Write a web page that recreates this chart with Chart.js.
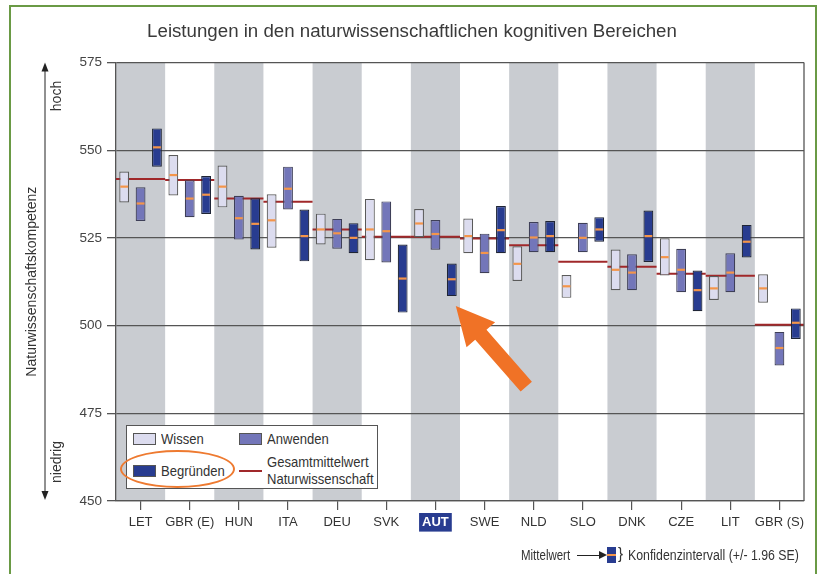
<!DOCTYPE html>
<html>
<head>
<meta charset="utf-8">
<script src="https://cdn.jsdelivr.net/npm/chart.js@4.4.1/dist/chart.umd.min.js"></script>
<style>
  body { margin: 0; background: #fff; }
  #wrap { position: relative; width: 822px; height: 574px; overflow: hidden;
          font-family: 'Liberation Sans', Arial, sans-serif; color: #333; }
  #chart { position: absolute; left: 0; top: 0; }
  .rahmen { position: absolute; left: 9px; top: 5px; width: 808px; height: 620px;
            border: 2px solid #6a9a45; box-sizing: border-box; }
  .legende { position: absolute; left: 126px; top: 425px; width: 252px; height: 64px;
             border: 1.5px solid #555; background: #fff; box-sizing: border-box; }
  .sw { position: absolute; width: 23px; height: 12px; border: 1px solid #555; box-sizing: border-box; }
  .txt { position: absolute; font-size: 15px; line-height: 17px; white-space: nowrap; color: #333;
         transform: scaleX(0.87); transform-origin: left center; }
  .ellipse { position: absolute; left: 120px; top: 450px; width: 115px; height: 38px;
             border: 2.5px solid #ee7a30; border-radius: 50%; box-sizing: border-box; }
  .fuss { position: absolute; font-size: 14px; line-height: 16px; white-space: nowrap; color: #333;
          transform: scaleX(0.88); transform-origin: left center; }
</style>
</head>
<body>
<div id="wrap">
  <div class="rahmen"></div>
  <canvas id="chart" width="822" height="574"></canvas>

  <div class="legende"></div>
  <div class="sw" style="left:133px;top:433px;background:#dcdcef"></div>
  <div class="txt" style="left:161px;top:430px">Wissen</div>
  <div class="sw" style="left:239px;top:433px;background:#7376b9"></div>
  <div class="txt" style="left:267px;top:430px">Anwenden</div>
  <div class="sw" style="left:133px;top:465px;background:#283c90"></div>
  <div class="txt" style="left:161px;top:462px">Begründen</div>
  <div style="position:absolute;left:239px;top:470px;width:23px;height:2px;background:#a0282a"></div>
  <div class="txt" style="left:267px;top:453px">Gesamtmittelwert</div>
  <div class="txt" style="left:267px;top:470px">Naturwissenschaft</div>
  <div class="ellipse"></div>

  <div class="fuss" style="left:521px;top:547px;transform:scaleX(0.82)">Mittelwert</div>
  <div style="position:absolute;left:577px;top:555px;width:23px;height:1px;background:#222"></div>
  <div style="position:absolute;left:599px;top:551px;width:0;height:0;border-top:4px solid transparent;border-bottom:4px solid transparent;border-left:8px solid #222"></div>
  <div style="position:absolute;left:607px;top:547px;width:9px;height:16px;background:#283c90"></div>
  <div style="position:absolute;left:607px;top:554px;width:9px;height:2px;background:#f4954a"></div>
  <div class="fuss" style="left:618px;top:546px;font-size:17px">}</div>
  <div class="fuss" style="left:628px;top:547px">Konfidenzintervall (+/- 1.96 SE)</div>
</div>

<script>
// Daten
const laender = ["LET", "GBR (E)", "HUN", "ITA", "DEU", "SVK", "AUT", "SWE", "NLD", "SLO", "DNK", "CZE", "LIT", "GBR (S)"];

const wissenUnten  = [535.1, 537.1, 533.7, 522.2, 523.1, 518.6, 525.2, 520.6, 512.7, 507.9, 510.1, 514.3, 507.3, 506.5];
const wissenOben   = [543.9, 548.6, 545.6, 537.4, 531.9, 536.1, 533.2, 530.5, 522.6, 514.4, 521.7, 524.9, 514.1, 514.6];
const wissenMittel = [539.6, 542.9, 539.6, 530.0, 527.4, 527.4, 529.1, 525.5, 517.6, 511.2, 515.9, 519.5, 510.6, 510.6];

const anwendenUnten  = [529.8, 530.9, 524.5, 533.1, 521.9, 518.0, 521.6, 514.9, 520.9, 520.9, 510.1, 509.5, 509.5, 488.6];
const anwendenOben   = [539.4, 541.4, 537.0, 545.3, 530.4, 535.4, 530.1, 526.2, 529.5, 529.3, 520.3, 521.9, 520.6, 498.2];
const anwendenMittel = [534.8, 536.2, 530.6, 539.0, 526.3, 526.9, 526.1, 520.7, 525.1, 525.0, 515.1, 515.9, 515.1, 493.6];

const begruendenUnten  = [545.3, 531.8, 521.7, 518.3, 520.6, 503.7, 508.4, 520.6, 520.9, 523.9, 518.1, 504.1, 519.4, 496.2];
const begruendenOben   = [556.2, 542.6, 536.3, 533.1, 529.2, 523.1, 517.7, 534.1, 529.8, 530.9, 532.8, 515.7, 528.7, 504.9];
const begruendenMittel = [550.8, 537.3, 529.0, 525.5, 525.0, 513.4, 513.2, 527.2, 525.5, 527.4, 525.5, 510.1, 523.9, 500.8];

const gesamtMittel = [541.8, 541.5, 536.2, 535.3, 527.4, 525.3, 525.3, 524.8, 522.9, 518.2, 516.8, 514.8, 514.2, 500.2];

const yTicks = [450, 475, 500, 525, 550, 575];

const mittelwerte = [wissenMittel, anwendenMittel, begruendenMittel];
const autIndex = laender.indexOf("AUT");

function spanne(unten, oben) {
  return unten.map((u, i) => [u, oben[i]]);
}

// graue Streifen hinter jedem zweiten Land
const streifen = {
  id: "streifen",
  beforeDraw(chart) {
    const { ctx, chartArea, scales } = chart;
    const x = scales.x;
    ctx.save();
    ctx.fillStyle = "#c9ccd1";
    for (let i = 0; i < laender.length; i += 2) {
      const l = x.getPixelForValue(i - 0.5);
      const r = x.getPixelForValue(i + 0.5);
      ctx.fillRect(l, chartArea.top, r - l, chartArea.bottom - chartArea.top);
    }
    ctx.restore();
  }
};

// Gesamtmittelwert als rote Linie je Land
const gesamtLinie = {
  id: "gesamtLinie",
  beforeDatasetsDraw(chart) {
    const { ctx, scales } = chart;
    ctx.save();
    ctx.strokeStyle = "#a0282a";
    ctx.lineWidth = 2;
    gesamtMittel.forEach((v, i) => {
      const y = scales.y.getPixelForValue(v);
      ctx.beginPath();
      ctx.moveTo(scales.x.getPixelForValue(i - 0.5), y);
      ctx.lineTo(scales.x.getPixelForValue(i + 0.5), y);
      ctx.stroke();
    });
    // rechter Rahmen
    ctx.strokeStyle = "#555";
    ctx.lineWidth = 1.3;
    ctx.beginPath();
    ctx.moveTo(chart.chartArea.right, chart.chartArea.top);
    ctx.lineTo(chart.chartArea.right, chart.chartArea.bottom);
    ctx.stroke();
    ctx.restore();
  }
};

// Mittelwert-Striche in den Balken + oranger Pfeil
const mittelStriche = {
  id: "mittelStriche",
  afterDatasetsDraw(chart) {
    const { ctx, scales } = chart;
    ctx.save();
    ctx.strokeStyle = "#f4954a";
    ctx.lineWidth = 2.2;
    mittelwerte.forEach((werte, d) => {
      const meta = chart.getDatasetMeta(d);
      meta.data.forEach((bar, i) => {
        const y = scales.y.getPixelForValue(werte[i]);
        ctx.beginPath();
        ctx.moveTo(bar.x - bar.width / 2 + 1, y);
        ctx.lineTo(bar.x + bar.width / 2 - 1, y);
        ctx.stroke();
      });
    });

    // Pfeil auf AUT Begründen
    const bar = chart.getDatasetMeta(2).data[autIndex];
    const tx = bar.x + 4, ty = Math.max(bar.y, bar.base) + 10;
    const ang = Math.atan2(80, 70);
    const ux = Math.cos(ang), uy = Math.sin(ang);
    const px = -uy, py = ux;
    const len = 107, kopf = 38, kb = 19, sb = 7.5;
    const pts = [
      [0, 0], [kopf, kb], [kopf, sb], [len, sb], [len, -sb], [kopf, -sb], [kopf, -kb]
    ].map(([a, b]) => [tx + ux * a + px * b, ty + uy * a + py * b]);
    ctx.fillStyle = "#f07226";
    ctx.beginPath();
    pts.forEach(([x, y], k) => k ? ctx.lineTo(x, y) : ctx.moveTo(x, y));
    ctx.closePath();
    ctx.fill();
    ctx.restore();
  }
};

// hoch / niedrig mit Pfeil links
const achsenPfeil = {
  id: "achsenPfeil",
  afterDraw(chart) {
    const { ctx, chartArea } = chart;
    const x = 45;
    ctx.save();
    ctx.strokeStyle = "#222";
    ctx.fillStyle = "#222";
    ctx.lineWidth = 1;
    ctx.beginPath();
    ctx.moveTo(x, chartArea.top + 4);
    ctx.lineTo(x, chartArea.bottom - 4);
    ctx.stroke();
    ctx.beginPath();
    ctx.moveTo(x, chartArea.top);
    ctx.lineTo(x - 3.5, chartArea.top + 9);
    ctx.lineTo(x + 3.5, chartArea.top + 9);
    ctx.fill();
    ctx.beginPath();
    ctx.moveTo(x, chartArea.bottom - 1);
    ctx.lineTo(x - 3.5, chartArea.bottom - 10);
    ctx.lineTo(x + 3.5, chartArea.bottom - 10);
    ctx.fill();
    ctx.font = "14px 'Liberation Sans', Arial";
    ctx.fillStyle = "#333";
    ctx.textAlign = "center";
    ctx.textBaseline = "middle";
    ctx.translate(57, 96);
    ctx.rotate(-Math.PI / 2);
    ctx.fillText("hoch", 0, 0);
    ctx.rotate(Math.PI / 2);
    ctx.translate(0, 366);
    ctx.rotate(-Math.PI / 2);
    ctx.fillText("niedrig", 0, 0);
    ctx.restore();
  }
};

const schrift = "'Liberation Sans', Arial, sans-serif";

new Chart(document.getElementById("chart"), {
  type: "bar",
  data: {
    labels: laender,
    datasets: [
      {
        label: "Wissen",
        data: spanne(wissenUnten, wissenOben),
        backgroundColor: "#dcdcef",
        borderColor: "#5a5a5a"
      },
      {
        label: "Anwenden",
        data: spanne(anwendenUnten, anwendenOben),
        backgroundColor: "#7376b9",
        borderColor: "#3e3f58"
      },
      {
        label: "Begründen",
        data: spanne(begruendenUnten, begruendenOben),
        backgroundColor: "#283c90",
        borderColor: "#1f2536"
      }
    ]
  },
  options: {
    responsive: false,
    animation: false,
    layout: { padding: { left: 20, right: 18, top: 0, bottom: 37 } },
    datasets: {
      bar: {
        borderWidth: 1.2,
        borderSkipped: false,
        categoryPercentage: 1.0,
        barPercentage: 0.6
      }
    },
    plugins: {
      legend: { display: false },
      tooltip: { enabled: false },
      title: {
        display: true,
        text: "Leistungen in den naturwissenschaftlichen kognitiven Bereichen",
        color: "#3a3a3a",
        font: { family: schrift, size: 18.7, weight: "normal" },
        padding: { top: 21, bottom: 19 }
      }
    },
    scales: {
      x: {
        offset: true,
        grid: { drawOnChartArea: false, drawTicks: true, tickLength: 9, offset: false, color: "#555", lineWidth: 1.2 },
        border: { color: "#555", width: 1.3 },
        afterFit(scale) { scale.height = 36; },
        ticks: {
          padding: 5,
          autoSkip: false,
          maxRotation: 0,
          minRotation: 0,
          color: ctx => ctx.index === autIndex ? "#fff" : "#333",
          font: ctx => ({ family: schrift, size: 13, weight: ctx.index === autIndex ? "bold" : "normal" }),
          showLabelBackdrop: ctx => ctx.index === autIndex,
          backdropColor: "#283c90",
          backdropPadding: { top: 2, bottom: 1, left: 3, right: 3 }
        }
      },
      y: {
        min: 450,
        max: 575,
        grid: { color: "#555", lineWidth: 1.3, tickLength: 9, drawTicks: true },
        border: { color: "#555", width: 1.3 },
        afterFit(scale) { scale.width = 96; },
        afterBuildTicks(scale) { scale.ticks = yTicks.map(v => ({ value: v })); },
        title: {
          display: true,
          text: "Naturwissenschaftskompetenz",
          color: "#333",
          font: { family: schrift, size: 14 },
          padding: { top: 4, bottom: 0 }
        },
        ticks: {
          padding: 5,
          color: "#444",
          font: { family: schrift, size: 13.5 }
        }
      }
    }
  },
  plugins: [streifen, gesamtLinie, mittelStriche, achsenPfeil]
});
</script>
</body>
</html>
